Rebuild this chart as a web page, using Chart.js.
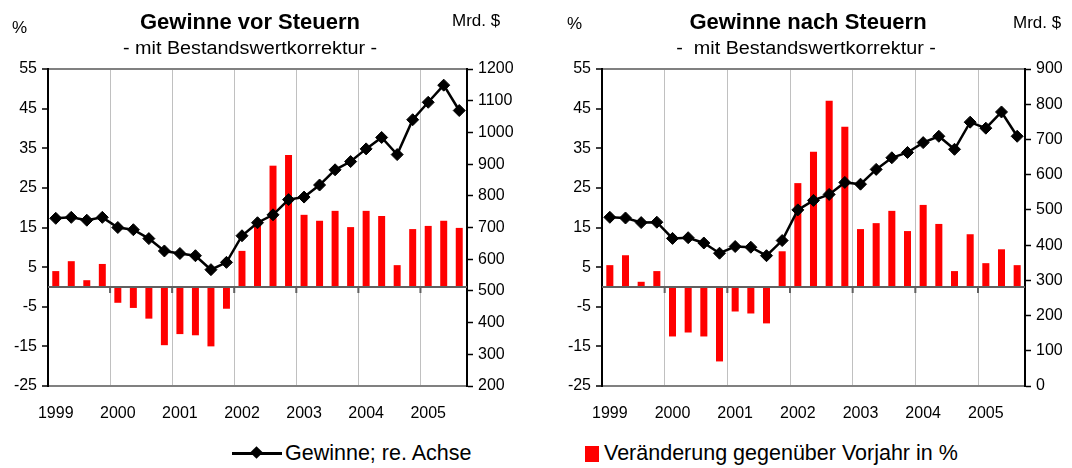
<!DOCTYPE html>
<html lang="de">
<head>
<meta charset="UTF-8">
<title>Gewinne vor und nach Steuern</title>
<script src="https://cdn.jsdelivr.net/npm/chart.js"></script>
<style>
  body { margin: 0; width: 1072px; height: 468px; background: #fff; position: relative; overflow: hidden;
         font-family: "Liberation Sans", Arial, sans-serif; color: #000; }
  canvas { position: absolute; top: 0; }
  .t { position: absolute; white-space: pre; line-height: 1; }
  .ttl { font-weight: bold; font-size: 22px; width: 400px; text-align: center; }
  .sub { font-size: 18px; width: 400px; text-align: center; transform: scaleX(1.1); }
  .unit { font-size: 17px; }
  .leg { font-size: 21.5px; }
</style>
</head>
<body>
<canvas id="vor" width="536" height="430" style="left:0"></canvas>
<canvas id="nach" width="518" height="430" style="left:554px"></canvas>

<div class="t unit" style="left:12px;top:19px">%</div>
<div class="t ttl" style="left:50px;top:11px">Gewinne vor Steuern</div>
<div class="t sub" style="left:50px;top:39px">- mit Bestandswertkorrektur -</div>
<div class="t unit" style="left:452px;top:12px">Mrd. $</div>

<div class="t unit" style="left:567px;top:15px">%</div>
<div class="t ttl" style="left:608px;top:11px">Gewinne nach Steuern</div>
<div class="t sub" style="left:606px;top:39px">-  mit Bestandswertkorrektur -</div>
<div class="t unit" style="left:1013px;top:14px">Mrd. $</div>

<div style="position:absolute;left:232px;top:452px;width:50px;height:3px;background:#000"></div>
<div style="position:absolute;left:252px;top:448px;width:9px;height:9px;background:#000;transform:rotate(45deg)"></div>
<div class="t leg" style="left:285px;top:443px">Gewinne; re. Achse</div>
<div style="position:absolute;left:585px;top:446px;width:14px;height:16px;background:#ff0000"></div>
<div class="t leg" style="left:604px;top:443px">Veränderung gegenüber Vorjahr in %</div>

<script>
// Quartale 1999 Q1 bis 2005 Q3
const quarters = ['99Q1','99Q2','99Q3','99Q4','00Q1','00Q2','00Q3','00Q4','01Q1','01Q2','01Q3','01Q4',
  '02Q1','02Q2','02Q3','02Q4','03Q1','03Q2','03Q3','03Q4','04Q1','04Q2','04Q3','04Q4','05Q1','05Q2','05Q3'];
const years = ['1999','2000','2001','2002','2003','2004','2005'];

// Gewinne vor Steuern
const vorPct = [4.0, 6.5, 1.7, 5.8, -4.0, -5.3, -8.0, -14.7, -11.9, -12.2, -15.0, -5.5, 9.1, 16.0, 30.6, 33.3,
  18.2, 16.7, 19.2, 15.1, 19.2, 17.9, 5.5, 14.6, 15.4, 16.7, 14.9];
const vorLevel = [729, 732, 723, 732, 700, 693, 665, 626, 618, 611, 567, 590, 674, 715, 740, 788,
  796, 834, 882, 908, 948, 984, 930, 1040, 1095, 1149, 1069];

// Gewinne nach Steuern
const nachPct = [5.5, 8.0, 1.3, 4.0, -12.5, -11.5, -12.5, -18.8, -6.2, -6.7, -9.2, 9.0, 26.2, 34.1, 47.0, 40.4,
  14.6, 16.1, 19.2, 14.1, 20.7, 15.9, 4.0, 13.3, 6.0, 9.5, 5.5];
const nachLevel = [479, 477, 464, 465, 419, 421, 406, 377, 396, 394, 370, 413, 500, 527, 544, 578,
  573, 615, 648, 663, 691, 709, 672, 749, 732, 778, 709];

Chart.defaults.font.family = '"Liberation Sans", Arial, sans-serif';
Chart.defaults.font.size = 16;
Chart.defaults.color = '#000';

// Nulllinie mit Jahres-Teilstrichen
const zeroAxis = {
  id: 'zeroAxis',
  afterDatasetsDraw(chart) {
    const { ctx, chartArea: a, scales: { x, y } } = chart;
    const y0 = y.getPixelForValue(0);
    const half = (x.getPixelForValue(1) - x.getPixelForValue(0)) / 2;
    ctx.save();
    ctx.strokeStyle = '#606060';
    ctx.lineWidth = 2;
    ctx.beginPath();
    ctx.moveTo(a.left, y0); ctx.lineTo(a.right, y0);
    for (let i = 4; i < quarters.length; i += 4) {
      const px = x.getPixelForValue(i) - half;
      ctx.moveTo(px, y0); ctx.lineTo(px, y0 + 6);
    }
    ctx.stroke();
    ctx.restore();
  }
};

function makeChart(id, pct, level, rMin, rMax, rWidth) {
  return new Chart(document.getElementById(id), {
    type: 'bar',
    data: {
      labels: quarters,
      datasets: [
        { type: 'line', data: level, yAxisID: 'y1', order: 0, borderColor: '#000', backgroundColor: '#000',
          borderWidth: 2.5, pointStyle: 'rectRot', pointRadius: 6, pointBorderWidth: 1 },
        { type: 'bar', data: pct, yAxisID: 'y', order: 1, backgroundColor: '#ff0000',
          barPercentage: 0.45, categoryPercentage: 1 }
      ]
    },
    options: {
      responsive: false,
      animation: false,
      layout: { padding: { top: 69, left: 0, right: 0, bottom: 0 } },
      plugins: { legend: { display: false }, tooltip: { enabled: false } },
      scales: {
        x: {
          offset: true,
          grid: { offset: true, drawTicks: false,
                  color: c => (c.index > 0 && c.index % 4 === 0) ? '#c0c0c0' : 'rgba(0,0,0,0)' },
          border: { color: '#808080', width: 2 },
          ticks: { autoSkip: false, maxRotation: 0, padding: 18,
                   callback: (v, i) => i % 4 === 0 ? years[i / 4] : '' },
          afterFit: s => { s.height = 44; }
        },
        y: {
          position: 'left', min: -25, max: 55,
          ticks: { stepSize: 10, padding: 5, callback: v => String(v) },
          grid: { color: c => c.tick && c.tick.value === 55 ? '#808080' : 'rgba(0,0,0,0)',
                  lineWidth: 2, tickColor: '#000', tickLength: 6, tickWidth: 1.5 },
          border: { color: '#000', width: 2 },
          afterFit: s => { s.width = 48; }
        },
        y1: {
          position: 'right', min: rMin, max: rMax,
          ticks: { stepSize: 100, padding: 5, callback: v => String(v) },
          grid: { drawOnChartArea: false, tickColor: '#000', tickLength: 6, tickWidth: 1.5 },
          border: { color: '#000', width: 2 },
          afterFit: s => { s.width = rWidth; }
        }
      }
    },
    plugins: [zeroAxis]
  });
}

makeChart('vor', vorPct, vorLevel, 200, 1200, 69);
makeChart('nach', nachPct, nachLevel, 0, 900, 47);
</script>
</body>
</html>
